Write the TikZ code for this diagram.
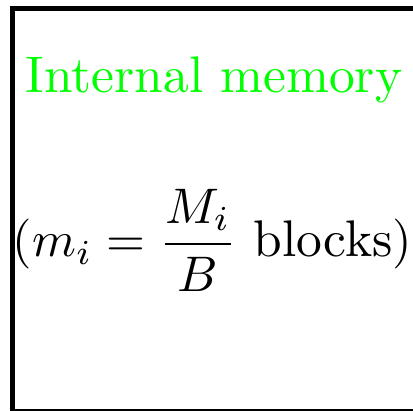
\documentclass[tikz,border=0pt]{standalone}
\usepackage{amsmath}
\begin{document}
\begin{tikzpicture}[
    x=0.2pt, y=-0.2pt,
    frame/.style={draw, line width=1pt},
    textsize/.style={font=\fontsize{10.3pt}{12.4pt}\selectfont},
    title/.style={textsize, text=green, inner sep=0pt, anchor=base}
]
    \useasboundingbox (0,0) rectangle (413,411);
    \clip (0,0) rectangle (413,411);
    \draw[frame] (12.5,8.5) rectangle (440,411.5);
    \node[title] (label) at (214,93) {Internal memory};
    \node[textsize, inner sep=0pt] (size) at (212.5,240)
        {$\displaystyle (m_i = \frac{M_i}{B} \text{ blocks})$};
\end{tikzpicture}
\end{document}
